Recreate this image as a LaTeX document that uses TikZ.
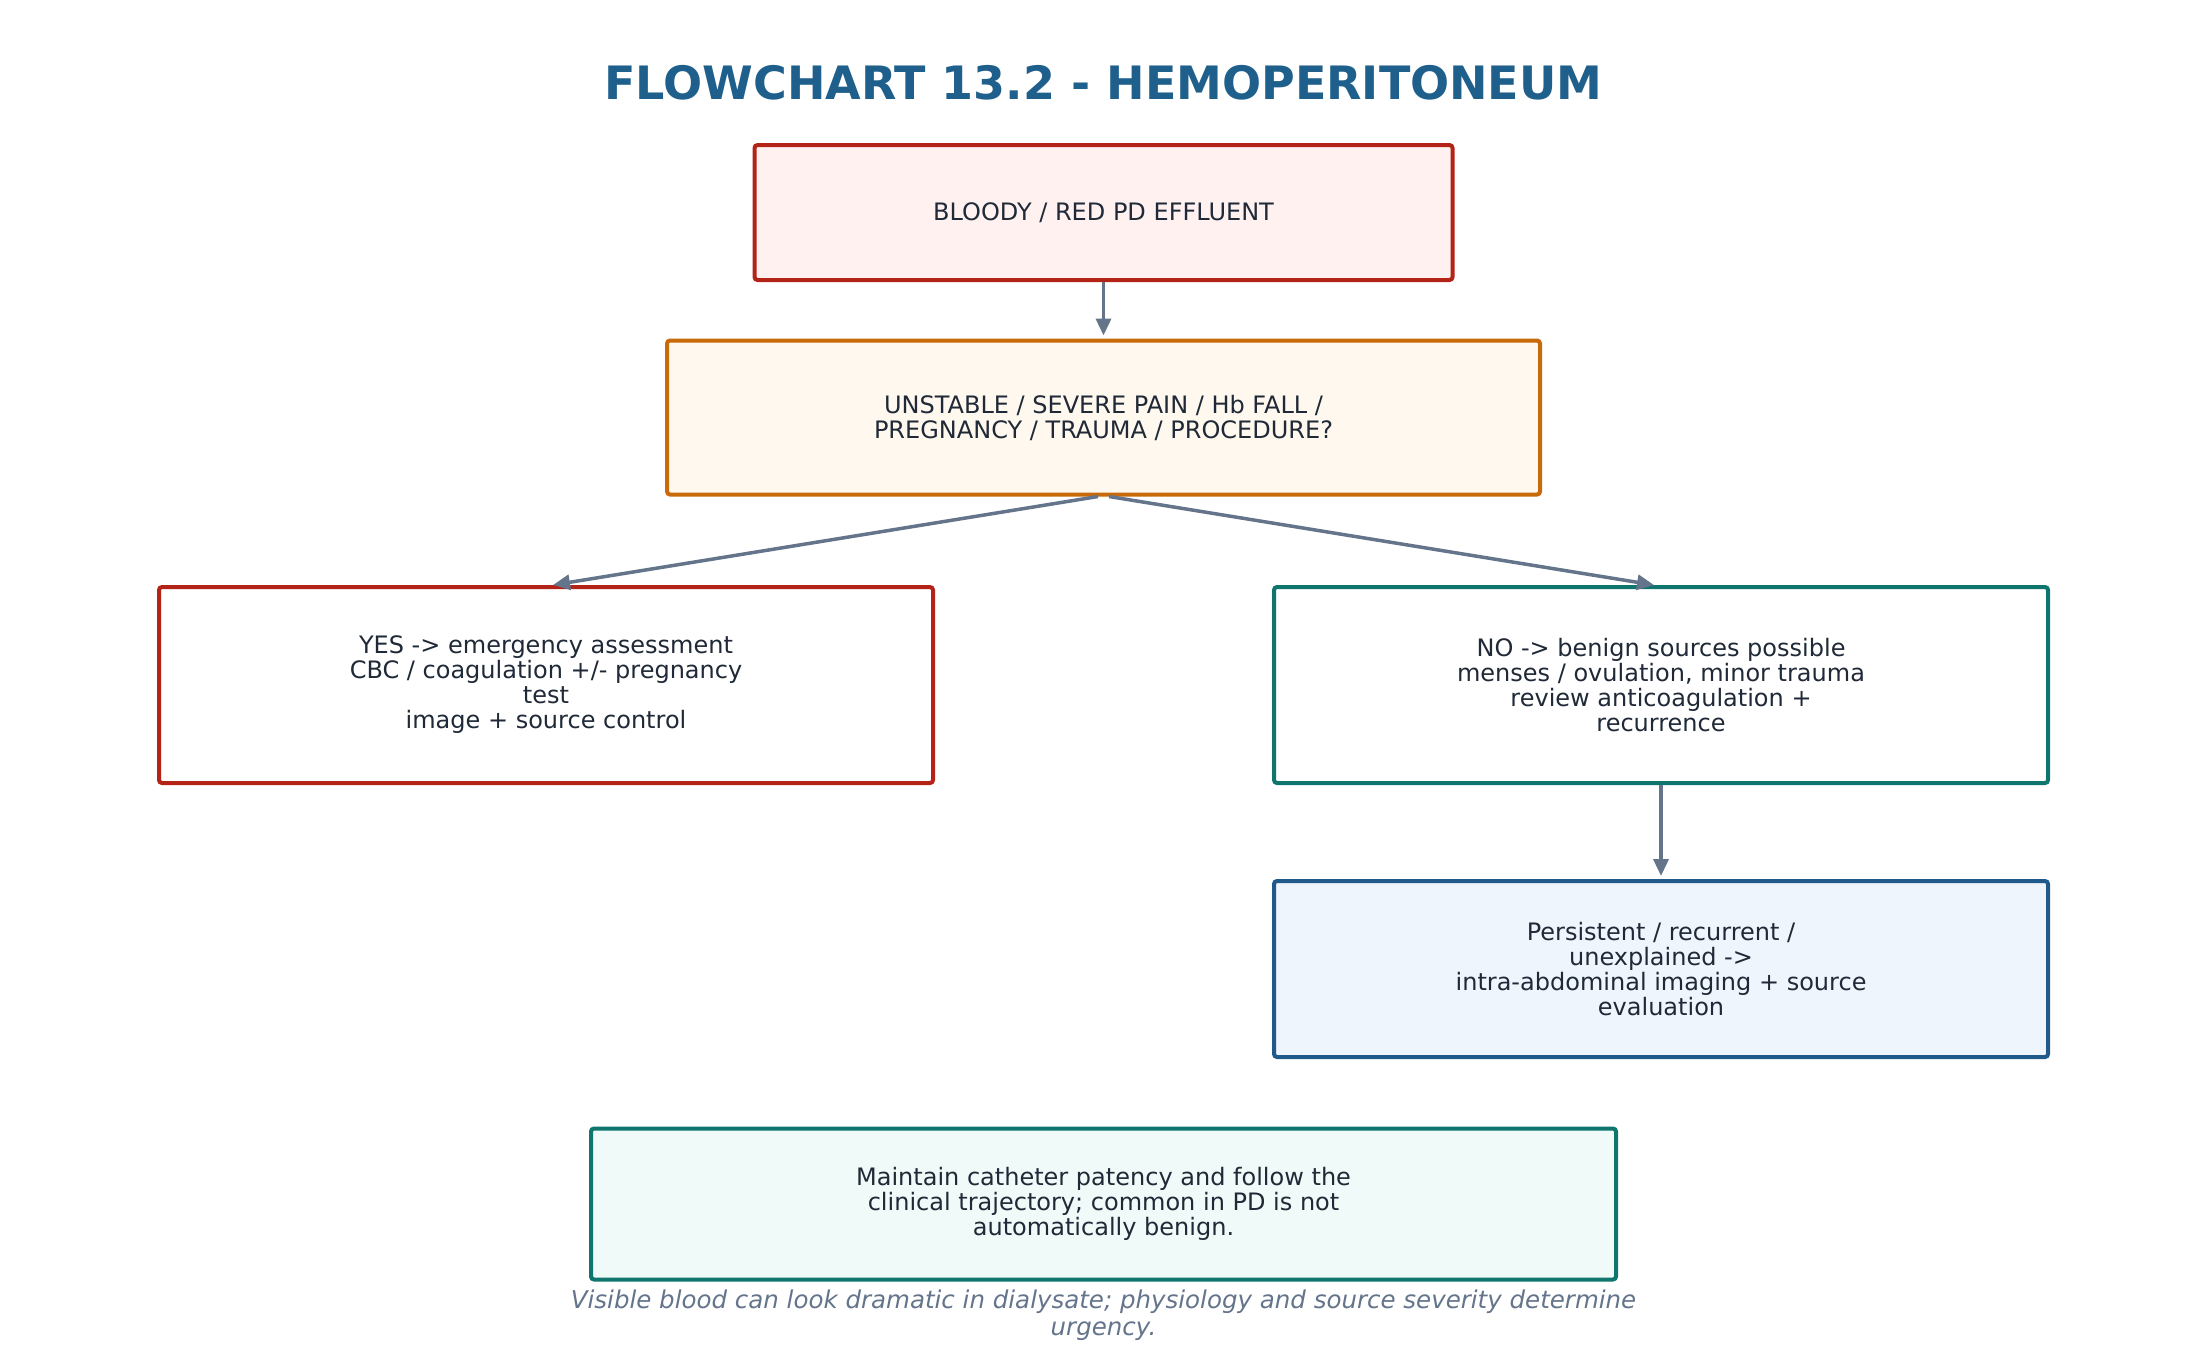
\documentclass[tikz,border=0pt]{standalone}
\usepackage{fontspec}
\setmainfont{DejaVu Sans}
\usetikzlibrary{arrows.meta}
\definecolor{title_blue}{HTML}{1F5F8B}
\definecolor{text_dark}{HTML}{1F2937}
\definecolor{arrow_gray}{HTML}{64748B}
\definecolor{red_line}{HTML}{B42318}
\definecolor{red_fill}{HTML}{FFF1F0}
\definecolor{orange_line}{HTML}{C96A0A}
\definecolor{orange_fill}{HTML}{FFF8EE}
\definecolor{teal_line}{HTML}{0F766E}
\definecolor{teal_fill}{HTML}{F0FAF8}
\definecolor{blue_line}{HTML}{1F5A8A}
\definecolor{blue_fill}{HTML}{EEF5FC}

\begin{document}
\begin{tikzpicture}[x=1pt,y=-1pt,
	main_box/.style={draw,rounded corners=3pt,line width=4pt,align=center,inner sep=0pt,
		text=text_dark,font=\fontsize{24}{25}\selectfont},
	red_box/.style={main_box,draw=red_line,fill=red_fill},
	orange_box/.style={main_box,draw=orange_line,fill=orange_fill},
	teal_box/.style={main_box,draw=teal_line,fill=teal_fill},
	blue_box/.style={main_box,draw=blue_line,fill=blue_fill},
	flow/.style={draw=arrow_gray,line width=3.5pt,-{Triangle[length=17pt,width=15pt]}}]

		\useasboundingbox (0,0) rectangle (2207,1371);

		\node[text=title_blue,font=\fontsize{46}{50}\selectfont\bfseries] (0) at (1103.5,83) {FLOWCHART 13.2 - HEMOPERITONEUM};

		\node[red_box,minimum width=698pt,minimum height=135pt] (1) at (1103.5,212.5) {BLOODY / RED PD EFFLUENT};
		\node[orange_box,minimum width=873pt,minimum height=154pt] (2) at (1103.5,417.5) {UNSTABLE / SEVERE PAIN / Hb FALL /\\PREGNANCY / TRAUMA / PROCEDURE?};
		\node[red_box,fill=white,minimum width=774pt,minimum height=196pt] (3) at (546,685) {YES -> emergency assessment\\CBC / coagulation +/- pregnancy\\test\\image + source control};
		\node[teal_box,fill=white,minimum width=774pt,minimum height=196pt] (4) at (1661,685) {NO -> benign sources possible\\menses / ovulation, minor trauma\\review anticoagulation +\\recurrence};
		\node[blue_box,minimum width=774pt,minimum height=176pt] (5) at (1661,969) {Persistent / recurrent /\\unexplained ->\\intra-abdominal imaging + source\\evaluation};
		\node[teal_box,minimum width=1025pt,minimum height=151pt] (6) at (1103.5,1204) {Maintain catheter patency and follow the\\clinical trajectory; common in PD is not\\automatically benign.};
		\node[align=center,text=arrow_gray,font=\fontsize{24.5}{27}\selectfont\itshape] (7) at (1103.5,1315) {Visible blood can look dramatic in dialysate; physiology and source severity determine\\urgency.};

		\draw[flow,shorten >=3pt] (1) -- (2);
		\draw[flow] ([xshift=-5.5pt]2.south) -- ([xshift=7pt]3.north);
		\draw[flow] ([xshift=5.5pt]2.south) -- ([xshift=-7pt]4.north);
		\draw[flow,shorten >=3pt] (4) -- (5);
		\end{tikzpicture}
\end{document}
